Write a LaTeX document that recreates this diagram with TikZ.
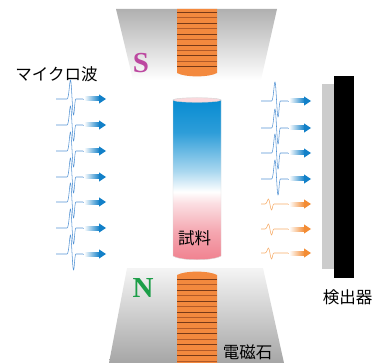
\documentclass[tikz,border=0pt]{standalone}
\usepackage{fontspec}
\newfontfamily\jpfont{Noto Sans CJK JP}
\newfontfamily\polefont{Liberation Serif}
\usetikzlibrary{shapes.geometric}
\definecolor{magnetgray}{RGB}{150,150,150}
\definecolor{coilorange}{RGB}{243,137,62}
\definecolor{coildark}{RGB}{120,58,24}
\definecolor{coilmid}{RGB}{178,90,40}
\definecolor{sampleblue}{RGB}{8,140,210}
\definecolor{samplepink}{RGB}{240,128,142}
\colorlet{samplepinkmid}{samplepink!70!white}
\colorlet{samplepinklight}{samplepink!25!white}
\colorlet{samplebluelight}{sampleblue!35!white}
\colorlet{samplebluemid}{sampleblue!85!white}
\definecolor{waveblue}{RGB}{85,148,212}
\definecolor{arrowblue}{RGB}{18,128,200}
\definecolor{waveorange}{RGB}{246,172,105}
\definecolor{arroworange}{RGB}{243,140,52}
\definecolor{southpink}{RGB}{188,72,160}
\definecolor{northgreen}{RGB}{28,158,72}
\definecolor{detgray}{RGB}{204,204,204}

% sample colour: pink at the bottom, white band, blue on top
\pgfdeclareverticalshading{samplefade}{100bp}{
  color(0bp)=(samplepink); color(25bp)=(samplepink);
  color(34bp)=(samplepinkmid); color(43bp)=(samplepinklight);
  color(46.5bp)=(white); color(53bp)=(samplebluelight);
  color(65bp)=(samplebluemid); color(75bp)=(sampleblue);
  color(100bp)=(sampleblue)}

\tikzset{
  jplabel/.style={font=\jpfont\fontsize{16.5}{16.5}\selectfont, inner sep=0pt},
  polelabel/.style={font=\polefont\bfseries\fontsize{29}{29}\selectfont, inner sep=0pt},
  pulseline/.style={line width=0.55pt, line join=round},
  coilline/.style={line width=0.8pt}
}

% one pulse on its baseline: colour, start of bump, height, depth
\newcommand{\pulse}[4]{%
  \draw[pulseline, draw=#1] (0,0) -- (#2,0)
    .. controls +(2,0) and +(-1,0) .. ++(3.5,-#3)
    .. controls +(1,0) and +(-1,0) .. ++(3,#3+#4)
    .. controls +(1,0) and +(-1.5,0) .. ++(2.5,-#4)
    -- (27,0);
  \draw[pulseline, draw=#1!60, dotted] (27,0) -- (30,0);
}
% fading arrow after the pulse
\newcommand{\flowarrow}[1]{%
  \shade[left color=#1!5, right color=#1] (29,-2) rectangle (43.5,2);
  \fill[#1] (43,-4.6) -- (50,0) -- (43,4.6) -- cycle;
}

\begin{document}
\begin{tikzpicture}[x=1pt, y=-1pt]
\useasboundingbox (0,0) rectangle (374,363);

% Magnet poles.
\shade[top color=magnetgray!75, bottom color=white]
  (116,9) -- (277,9) -- (261,80) -- (133,80) -- cycle;
\shade[top color=magnetgray!10, bottom color=magnetgray!85]
  (127,268) -- (263,268) -- (284,363) -- (109,363) -- cycle;

% Coils.
\fill[coilorange] (177,9) -- (177,73)
  .. controls (185,77.5) and (209,77.5) .. (217,73) -- (217,9) -- cycle;
\foreach \i in {0,...,10} {
  \ifodd\i \def\cc{coilmid}\else\def\cc{coildark}\fi
  \draw[coilline, draw=\cc] (177,12.3+5.44*\i) -- (217,12.3+5.44*\i);
}
\fill[coilorange] (177,363) -- (177,275)
  .. controls (185,270.5) and (209,270.5) .. (217,275) -- (217,363) -- cycle;
\foreach \i in {0,...,15} {
  \ifodd\i \def\cc{coilmid}\else\def\cc{coildark}\fi
  \draw[coilline, draw=\cc] (177,279.3+5.44*\i) -- (217,279.3+5.44*\i);
}

\node[polelabel, text=southpink] (south) at (141,63) {S};
\node[polelabel, text=northgreen] (north) at (143,288) {N};

% Sample tube.
\shade[shading=samplefade, draw=gray!30, line width=0.4pt]
  (173,100) -- (173,256) .. controls (181,261) and (213,261) .. (221,256)
  -- (221,100) -- cycle;
\draw[fill=samplepink!30, draw=gray!35, line width=0.4pt]
  (197,100) ellipse (24 and 2.3);
\node[jplabel] (sample) at (194.5,238) {試料};

% Incoming microwaves.
\node[jplabel] (microlabel) at (56.5,74) {マイクロ波};
\foreach \y in {99,125,151,177,202,228,254} {
  \begin{scope}[shift={(56,\y)}]
    \pulse{waveblue}{11}{19}{16}
    \flowarrow{arrowblue}
  \end{scope}
}

% Transmitted microwaves: blue ones pass, orange ones are absorbed.
\foreach \y in {101,128,153,179} {
  \begin{scope}[shift={(261,\y)}]
    \pulse{waveblue}{10.5}{19}{16}
    \flowarrow{arrowblue}
  \end{scope}
}
\foreach \y in {204,229,253} {
  \begin{scope}[shift={(261,\y)}]
    \pulse{waveorange}{4}{5}{6}
    \flowarrow{arroworange}
  \end{scope}
}

% Detector.
\fill[detgray] (322,84) rectangle (334,269);
\fill[black] (334,76) rectangle (354,278);
\node[jplabel] (detlabel) at (347.5,297) {検出器};

\node[jplabel] (magnetlabel) at (247.5,352) {電磁石};

\end{tikzpicture}
\end{document}
